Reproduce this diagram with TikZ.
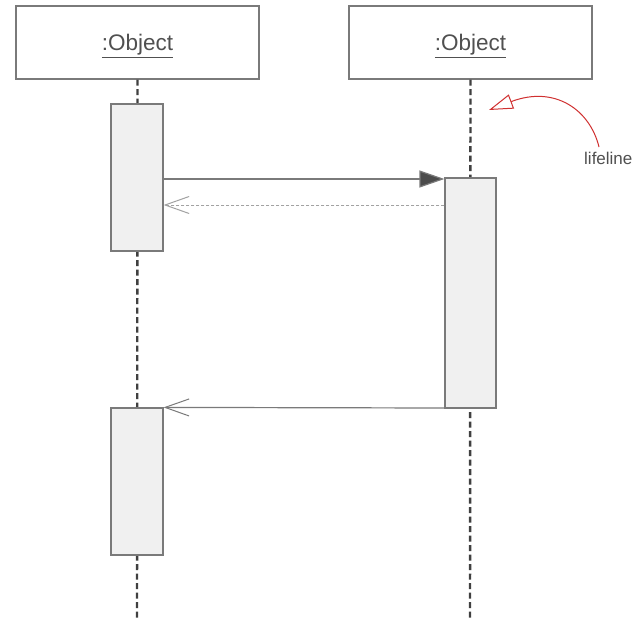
\documentclass[tikz,border=0pt]{standalone}
\usepackage{fontspec}
\setmainfont{Liberation Sans}
\usetikzlibrary{arrows.meta}
\definecolor{ln}{HTML}{7A7A7A}
\definecolor{act}{HTML}{F0F0F0}
\definecolor{txt}{HTML}{505050}
\definecolor{rd}{HTML}{D03030}
\begin{document}
\begin{tikzpicture}[x=1pt,y=-1pt,
  objbox/.style={draw=ln,line width=1.2pt,fill=white,minimum width=243pt,minimum height=73pt,inner sep=0pt,font=\fontsize{22.5}{24}\selectfont,text=txt,text depth=0pt},
  actbox/.style={draw=ln,line width=1.2pt,fill=act,minimum width=52pt,inner sep=0pt},
  lifel/.style={draw=black!75,line width=2.4pt,dash pattern=on 6pt off 3.5pt},
  msg/.style={draw=ln,line width=1.2pt},
  ret/.style={draw=ln!70,line width=1pt,dash pattern=on 3pt off 2pt}]
\useasboundingbox (0,0) rectangle (642,621);
\fill[white] (0,0) rectangle (642,621);
\coordinate (e1) at (137,621);
\coordinate (e2) at (470,621);
\node[objbox] (o1) at (137.5,42.5) {\underline{:Object}};
\node[objbox] (o2) at (470.5,42.5) {\underline{:Object}};
\draw[lifel] (o1.south) -- (e1);
\draw[lifel] (o2.south) -- (e2);
\node[actbox,minimum height=147pt] (a1) at (137,177.5) {};
\node[actbox,minimum height=230pt,minimum width=51pt] (a2) at (470.5,293) {};
\node[actbox,minimum height=147pt] (a3) at (137,481.5) {};
\draw[msg,-{Triangle[length=25pt,width=17pt,fill=black!70]}] (a1.east|-0,179) -- (a2.west|-0,179);
\draw[ret,-{Straight Barb[length=24pt,width=17pt,line width=1pt]}] (a2.west|-0,205) -- (a1.east|-0,205);
\draw[msg,-{Straight Barb[length=24pt,width=17pt,line width=1pt]}] (a2.west|-0,408) -- (a3.north east);
\node[text=txt,font=\fontsize{17}{19}\selectfont,anchor=west,inner sep=0pt] (lab) at (584,158) {lifeline};
\coordinate (lt) at (489,110);
\draw[rd,line width=1pt,-{Triangle[open,length=24pt,width=15pt,line width=1pt]}] (599,147) .. controls (590,110) and (555,85) .. (lt);
\end{tikzpicture}
\end{document}
